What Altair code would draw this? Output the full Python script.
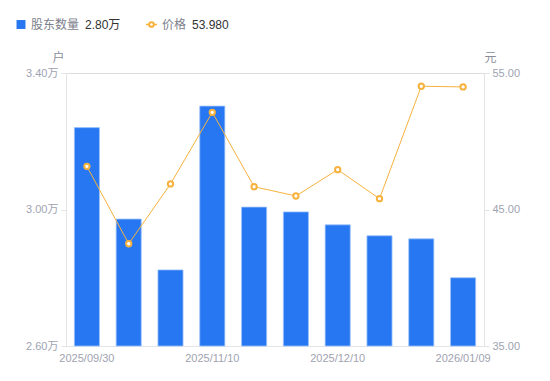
import altair as alt
import pandas as pd

dates = ["2025/09/30", "2025/10/20", "2025/10/31", "2025/11/10", "2025/11/20",
         "2025/11/28", "2025/12/10", "2025/12/19", "2025/12/31", "2026/01/09"]
holders = [3.240, 2.972, 2.823, 3.303, 3.007, 2.993, 2.955, 2.923, 2.914, 2.800]  # 万户
price = [48.16, 42.49, 46.87, 52.12, 46.67, 45.99, 47.92, 45.79, 54.03, 53.98]
shown_dates = ["2025/09/30", "2025/11/10", "2025/12/10", "2026/01/09"]

df = pd.DataFrame({"date": dates, "holders": holders, "price": price})

FONT = "Liberation Sans, Noto Sans CJK SC, sans-serif"
LABEL_C = "#a0a3b1"
AXIS_C = "#e3e4e8"
BLUE = "#2677f1"
ORANGE = "#f7b23e"

xenc = alt.X("date:N", sort=dates,
             scale=alt.Scale(paddingInner=0.4, paddingOuter=0.2),
             axis=alt.Axis(title=None, labelAngle=0, ticks=False, values=shown_dates,
                           labelColor=LABEL_C, labelFontSize=11, labelFont=FONT,
                           labelPadding=6, domainColor=AXIS_C))

bars = alt.Chart(df).mark_bar(color=BLUE, stroke="#9cc2fa", strokeWidth=0.8).encode(
    x=xenc,
    y=alt.Y("holders:Q", scale=alt.Scale(domain=[2.6, 3.4], zero=False, nice=False),
            axis=alt.Axis(values=[2.6, 3.0, 3.4], labelExpr="format(datum.value, '.2f') + '万'",
                          title="户", titleAngle=0, titleAlign="center", titleBaseline="middle",
                          titleX=-8, titleY=-16, titleColor="#8a8d99", titleFontSize=12,
                          titleFontWeight="normal", titleFont=FONT,
                          labelColor=LABEL_C, labelFontSize=11, labelFont=FONT,
                          tickSize=5, tickColor=AXIS_C, domainColor=AXIS_C, grid=False,
                          labelPadding=3)),
    y2=alt.datum(2.6),
)

line = alt.Chart(df).mark_line(color=ORANGE, strokeWidth=1).encode(
    x=alt.X("date:N", sort=dates),
    y=alt.Y("price:Q", scale=alt.Scale(domain=[35, 55], zero=False, nice=False),
            axis=alt.Axis(orient="right", values=[35, 45, 55], format=".2f",
                          title="元", titleAngle=0, titleAlign="center", titleBaseline="middle",
                          titleX=6, titleY=-16, titleColor="#8a8d99", titleFontSize=12,
                          titleFontWeight="normal", titleFont=FONT,
                          labelColor=LABEL_C, labelFontSize=11, labelFont=FONT,
                          tickSize=5, tickColor=AXIS_C, domainColor=AXIS_C, grid=False,
                          labelPadding=3)),
)
pts = alt.Chart(df).mark_point(shape="circle", filled=True, fill="white", stroke=ORANGE,
                               strokeWidth=2, size=28, opacity=1).encode(
    x=alt.X("date:N", sort=dates),
    y=alt.Y("price:Q", scale=alt.Scale(domain=[35, 55], zero=False, nice=False), axis=None),
)

leg = pd.DataFrame({
    "h": [f"{holders[-1]:.2f}万"],
    "p": [f"{price[-1]:.3f}"],
})
LY = -48.5
sq = alt.Chart(leg).mark_square(color=BLUE, size=80, opacity=1).encode(
    x=alt.value(-45), y=alt.value(LY))
t1 = alt.Chart(leg).mark_text(text="股东数量", align="left", baseline="middle", fontSize=12,
                              font=FONT, color="#7c808c").encode(x=alt.value(-35), y=alt.value(LY))
t2 = alt.Chart(leg).mark_text(align="left", baseline="middle", fontSize=12, font=FONT,
                              color="#333333").encode(x=alt.value(19), y=alt.value(LY), text="h:N")
lr = alt.Chart(leg).mark_rule(color=ORANGE, strokeWidth=1.5).encode(
    x=alt.value(80), x2=alt.value(91), y=alt.value(LY))
lp = alt.Chart(leg).mark_point(shape="circle", filled=True, fill="white", stroke=ORANGE,
                               strokeWidth=2, size=22, opacity=1).encode(
    x=alt.value(85.5), y=alt.value(LY))
t3 = alt.Chart(leg).mark_text(text="价格", align="left", baseline="middle", fontSize=12,
                              font=FONT, color="#7c808c").encode(x=alt.value(96), y=alt.value(LY))
t4 = alt.Chart(leg).mark_text(align="left", baseline="middle", fontSize=12, font=FONT,
                              color="#333333").encode(x=alt.value(126), y=alt.value(LY), text="p:N")

chart = alt.layer(bars, line, pts, sq, t1, t2, lr, lp, t3, t4).resolve_scale(
    y="independent"
).properties(
    width=418, height=273,
    padding={"left": 58, "top": 65, "right": 50, "bottom": 20},
    autosize=alt.AutoSizeParams(type="none"),
).configure_view(stroke=None).configure(background="white")

chart.save("out.html", embed_options={"renderer": "svg", "actions": False})
